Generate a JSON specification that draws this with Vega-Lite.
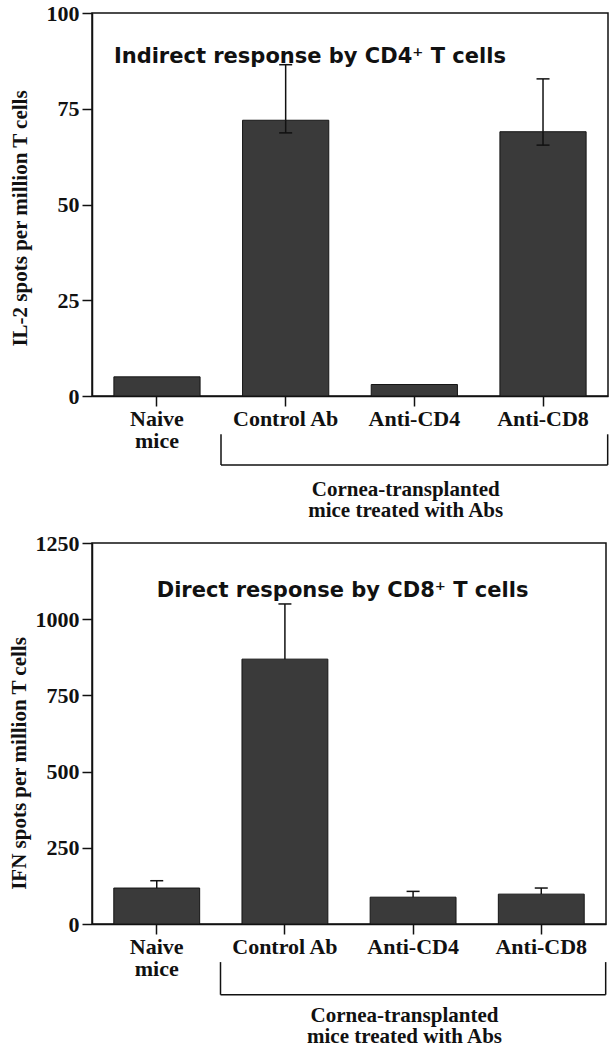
{
  "$schema": "https://vega.github.io/schema/vega-lite/v6.json",
  "background": "white",
  "padding": {"left": 7, "top": 1, "right": 5, "bottom": 0},
  "spacing": 9,
  "config": {
    "view": {"stroke": "#111", "strokeWidth": 1.5},
    "axis": {
      "labelFont": "Liberation Serif", "labelFontWeight": "bold", "labelFontSize": 22, "labelColor": "#111",
      "titleFont": "Liberation Serif", "titleFontWeight": "bold", "titleFontSize": 21, "titleColor": "#111",
      "domainColor": "#111", "domainWidth": 1.5, "tickColor": "#111", "tickWidth": 1.5, "tickSize": 10,
      "grid": false
    }
  },
  "vconcat": [
    {
      "width": 516,
      "height": 383,
      "data": {"values": [
        {"group": "Naive mice", "value": 5, "lower": null, "upper": null},
        {"group": "Control Ab", "value": 72, "lower": 68.7, "upper": 86.5},
        {"group": "Anti-CD4", "value": 3, "lower": null, "upper": null},
        {"group": "Anti-CD8", "value": 69, "lower": 65.5, "upper": 82.8}
      ]},
      "encoding": {
        "x": {
          "field": "group", "type": "nominal",
          "scale": {"domain": ["Naive mice", "Control Ab", "Anti-CD4", "Anti-CD8"], "paddingInner": 0.33, "paddingOuter": 0.17},
          "axis": {"title": null, "labelAngle": 0, "labelPadding": 2, "labelLineHeight": 22, "labelBaseline": "top",
                   "labelExpr": "datum.value == 'Naive mice' ? ['Naive', 'mice'] : datum.value"}
        }
      },
      "layer": [
        {
          "mark": {"type": "bar", "fill": "#3a3a3a", "stroke": "#151515", "strokeWidth": 1},
          "encoding": {
            "y": {"field": "value", "type": "quantitative", "title": "IL-2 spots per million T cells",
                  "scale": {"domain": [0, 100], "nice": false},
                  "axis": {"values": [0, 25, 50, 75, 100], "format": "d", "titlePadding": 16, "labelPadding": 3, "titleY": 205}}
          }
        },
        {
          "transform": [{"filter": "datum.upper != null"}],
          "mark": {"type": "rule", "color": "#111", "strokeWidth": 1.5},
          "encoding": {
            "y": {"field": "value", "type": "quantitative", "title": "IL-2 spots per million T cells"},
            "y2": {"field": "upper"}
          }
        },
        {
          "transform": [{"filter": "datum.upper != null"}],
          "mark": {"type": "tick", "color": "#111", "thickness": 1.5, "size": 13, "opacity": 1},
          "encoding": {"y": {"field": "upper", "type": "quantitative", "title": "IL-2 spots per million T cells"}}
        },
        {
          "transform": [{"filter": "datum.lower != null"}],
          "mark": {"type": "rule", "color": "#111", "strokeWidth": 1.5},
          "encoding": {
            "y": {"field": "lower", "type": "quantitative", "title": "IL-2 spots per million T cells"},
            "y2": {"field": "value"}
          }
        },
        {
          "transform": [{"filter": "datum.lower != null"}],
          "mark": {"type": "tick", "color": "#111", "thickness": 1.5, "size": 13, "opacity": 1},
          "encoding": {"y": {"field": "lower", "type": "quantitative", "title": "IL-2 spots per million T cells"}}
        },
        {
          "data": {"values": [{"note": "title"}]},
          "mark": {"type": "text", "text": "Indirect response by CD4⁺ T cells", "font": "DejaVu Sans", "fontWeight": "bold", "fontSize": 21, "color": "#111", "align": "left", "baseline": "alphabetic"},
          "encoding": {
            "x": {"datum": "Naive mice", "bandPosition": 0, "title": null},
            "y": {"datum": 87, "type": "quantitative", "title": "IL-2 spots per million T cells"}
          }
        },
        {
          "data": {"values": [{"note": "bracket"}]},
          "mark": {"type": "rule", "color": "#111", "strokeWidth": 1.5},
          "encoding": {
            "x": {"datum": "Control Ab", "bandPosition": -0.25, "title": null},
            "x2": {"datum": "Anti-CD8", "bandPosition": 1.25},
            "y": {"datum": -18, "type": "quantitative", "title": "IL-2 spots per million T cells"}
          }
        },
        {
          "data": {"values": [{"note": "bracket"}]},
          "mark": {"type": "rule", "color": "#111", "strokeWidth": 1.5},
          "encoding": {
            "x": {"datum": "Control Ab", "bandPosition": -0.25, "title": null},
            "y": {"datum": -10, "type": "quantitative", "title": "IL-2 spots per million T cells"},
            "y2": {"datum": -18}
          }
        },
        {
          "data": {"values": [{"note": "bracket"}]},
          "mark": {"type": "rule", "color": "#111", "strokeWidth": 1.5},
          "encoding": {
            "x": {"datum": "Anti-CD8", "bandPosition": 1.25, "title": null},
            "y": {"datum": -10, "type": "quantitative", "title": "IL-2 spots per million T cells"},
            "y2": {"datum": -18}
          }
        },
        {
          "data": {"values": [{"note": "bracket"}]},
          "mark": {"type": "text", "text": ["Cornea-transplanted", "mice treated with Abs"], "font": "Liberation Serif", "fontWeight": "bold", "fontSize": 21, "lineHeight": 21, "color": "#111", "align": "center", "baseline": "alphabetic"},
          "encoding": {
            "x": {"datum": "Anti-CD4", "bandPosition": 0.4, "title": null},
            "y": {"datum": -26, "type": "quantitative", "title": "IL-2 spots per million T cells"}
          }
        }
      ]
    },
    {
      "width": 514,
      "height": 381,
      "data": {"values": [
        {"group": "Naive mice", "value": 118, "upper": 142},
        {"group": "Control Ab", "value": 869, "upper": 1050},
        {"group": "Anti-CD4", "value": 88, "upper": 107},
        {"group": "Anti-CD8", "value": 98, "upper": 118}
      ]},
      "encoding": {
        "x": {
          "field": "group", "type": "nominal",
          "scale": {"domain": ["Naive mice", "Control Ab", "Anti-CD4", "Anti-CD8"], "paddingInner": 0.33, "paddingOuter": 0.17},
          "axis": {"title": null, "labelAngle": 0, "labelPadding": 2, "labelLineHeight": 22, "labelBaseline": "top",
                   "labelExpr": "datum.value == 'Naive mice' ? ['Naive', 'mice'] : datum.value"}
        }
      },
      "layer": [
        {
          "mark": {"type": "bar", "fill": "#3a3a3a", "stroke": "#151515", "strokeWidth": 1},
          "encoding": {
            "y": {"field": "value", "type": "quantitative", "title": "IFN spots per million T cells",
                  "scale": {"domain": [0, 1250], "nice": false},
                  "axis": {"values": [0, 250, 500, 750, 1000, 1250], "format": "d", "titlePadding": 6, "labelPadding": 3, "titleY": 220}}
          }
        },
        {
          "mark": {"type": "rule", "color": "#111", "strokeWidth": 1.5},
          "encoding": {
            "y": {"field": "value", "type": "quantitative", "title": "IFN spots per million T cells"},
            "y2": {"field": "upper"}
          }
        },
        {
          "mark": {"type": "tick", "color": "#111", "thickness": 1.5, "size": 13, "opacity": 1},
          "encoding": {"y": {"field": "upper", "type": "quantitative", "title": "IFN spots per million T cells"}}
        },
        {
          "data": {"values": [{"note": "title"}]},
          "mark": {"type": "text", "text": "Direct response by CD8⁺ T cells", "font": "DejaVu Sans", "fontWeight": "bold", "fontSize": 21, "color": "#111", "align": "left", "baseline": "alphabetic"},
          "encoding": {
            "x": {"datum": "Naive mice", "bandPosition": 0.5, "title": null},
            "y": {"datum": 1072, "type": "quantitative", "title": "IFN spots per million T cells"}
          }
        },
        {
          "data": {"values": [{"note": "bracket"}]},
          "mark": {"type": "rule", "color": "#111", "strokeWidth": 1.5},
          "encoding": {
            "x": {"datum": "Control Ab", "bandPosition": -0.25, "title": null},
            "x2": {"datum": "Anti-CD8", "bandPosition": 1.25},
            "y": {"datum": -232, "type": "quantitative", "title": "IFN spots per million T cells"}
          }
        },
        {
          "data": {"values": [{"note": "bracket"}]},
          "mark": {"type": "rule", "color": "#111", "strokeWidth": 1.5},
          "encoding": {
            "x": {"datum": "Control Ab", "bandPosition": -0.25, "title": null},
            "y": {"datum": -125, "type": "quantitative", "title": "IFN spots per million T cells"},
            "y2": {"datum": -232}
          }
        },
        {
          "data": {"values": [{"note": "bracket"}]},
          "mark": {"type": "rule", "color": "#111", "strokeWidth": 1.5},
          "encoding": {
            "x": {"datum": "Anti-CD8", "bandPosition": 1.25, "title": null},
            "y": {"datum": -125, "type": "quantitative", "title": "IFN spots per million T cells"},
            "y2": {"datum": -232}
          }
        },
        {
          "data": {"values": [{"note": "bracket"}]},
          "mark": {"type": "text", "text": ["Cornea-transplanted", "mice treated with Abs"], "font": "Liberation Serif", "fontWeight": "bold", "fontSize": 21, "lineHeight": 21, "color": "#111", "align": "center", "baseline": "alphabetic"},
          "encoding": {
            "x": {"datum": "Anti-CD4", "bandPosition": 0.4, "title": null},
            "y": {"datum": -320, "type": "quantitative", "title": "IFN spots per million T cells"}
          }
        }
      ]
    }
  ]
}
